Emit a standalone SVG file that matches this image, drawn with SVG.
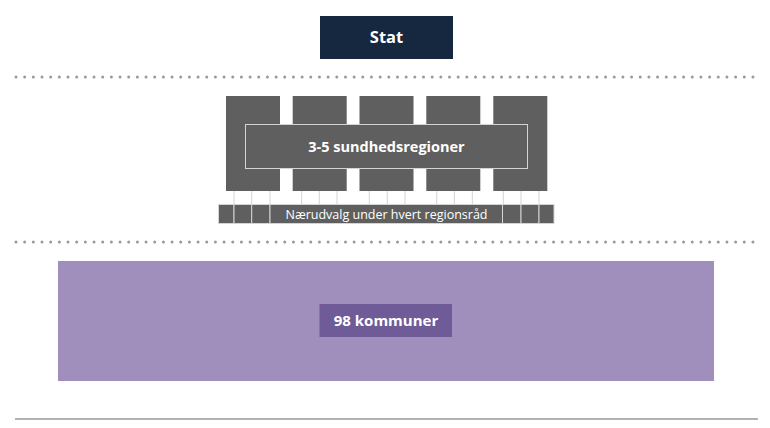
<svg xmlns="http://www.w3.org/2000/svg" width="770" height="428" viewBox="0 0 770 428">
<defs>
<style>
.dots{stroke:#9a9a9a;stroke-width:3;stroke-linecap:round;stroke-dasharray:0 8.67;fill:none}
.blk{fill:#5f5f5f}
.cell{fill:#5f5f5f;stroke:#d4d4d4;stroke-width:1}
.conn{stroke:#d4d4d4;stroke-width:1;fill:none}
.t{font-family:"Open Sans","Noto Sans","Liberation Sans",sans-serif;fill:#fff;text-anchor:middle}
.b{font-weight:bold}
</style>
</defs>
<rect width="770" height="428" fill="#fff"/>
<g id="separators">
<line class="dots" x1="16" y1="77" x2="757" y2="77"/>
<line class="dots" x1="16" y1="242" x2="757" y2="242"/>
<line x1="15" y1="419" x2="758" y2="419" stroke="#9a9a9a" stroke-width="1.5"/>
</g>
<g id="stat">
<rect x="320" y="16" width="133" height="43" fill="#15283f"/>
<text class="t b" x="386.5" y="43" font-size="16.5">Stat</text>
</g>
<g id="connectors">
<path class="conn" d="M234,191V204M251.7,191V204M270,191V204M301.7,191V204M319.3,191V204M337,191V204M369.3,191V204M387.3,191V204M405,191V204M436.7,191V204M454.3,191V204M472.3,191V204M503.3,191V204M521,191V204M539,191V204"/>
</g>
<g id="regions">
<rect class="blk" x="226" y="96" width="54" height="95"/>
<rect class="blk" x="292.7" y="96" width="54" height="95"/>
<rect class="blk" x="359.5" y="96" width="54" height="95"/>
<rect class="blk" x="426.3" y="96" width="54" height="95"/>
<rect class="blk" x="493.3" y="96" width="54" height="95"/>
</g>
<g id="sundhedsregioner">
<rect class="cell" x="245.5" y="124.5" width="282" height="44"/>
<text class="t b" x="386.5" y="151.5" font-size="14.5">3-5 sundhedsregioner</text>
</g>
<g id="naerudvalg">
<rect class="cell" x="218.5" y="204.5" width="15.5" height="19"/>
<rect class="cell" x="234" y="204.5" width="17.7" height="19"/>
<rect class="cell" x="251.7" y="204.5" width="18.3" height="19"/>
<rect class="cell" x="270" y="204.5" width="232.5" height="19"/>
<rect class="cell" x="502.5" y="204.5" width="18.5" height="19"/>
<rect class="cell" x="521" y="204.5" width="18" height="19"/>
<rect class="cell" x="539" y="204.5" width="15" height="19"/>
<text class="t" x="386.5" y="218.5" font-size="12.5">Nærudvalg under hvert regionsråd</text>
</g>
<g id="kommuner">
<rect x="58" y="261" width="656" height="120" fill="#a08fbc"/>
<rect x="319.5" y="304" width="132.5" height="33" fill="#6f5b98"/>
<text class="t b" x="386" y="326" font-size="15">98 kommuner</text>
</g>
</svg>
